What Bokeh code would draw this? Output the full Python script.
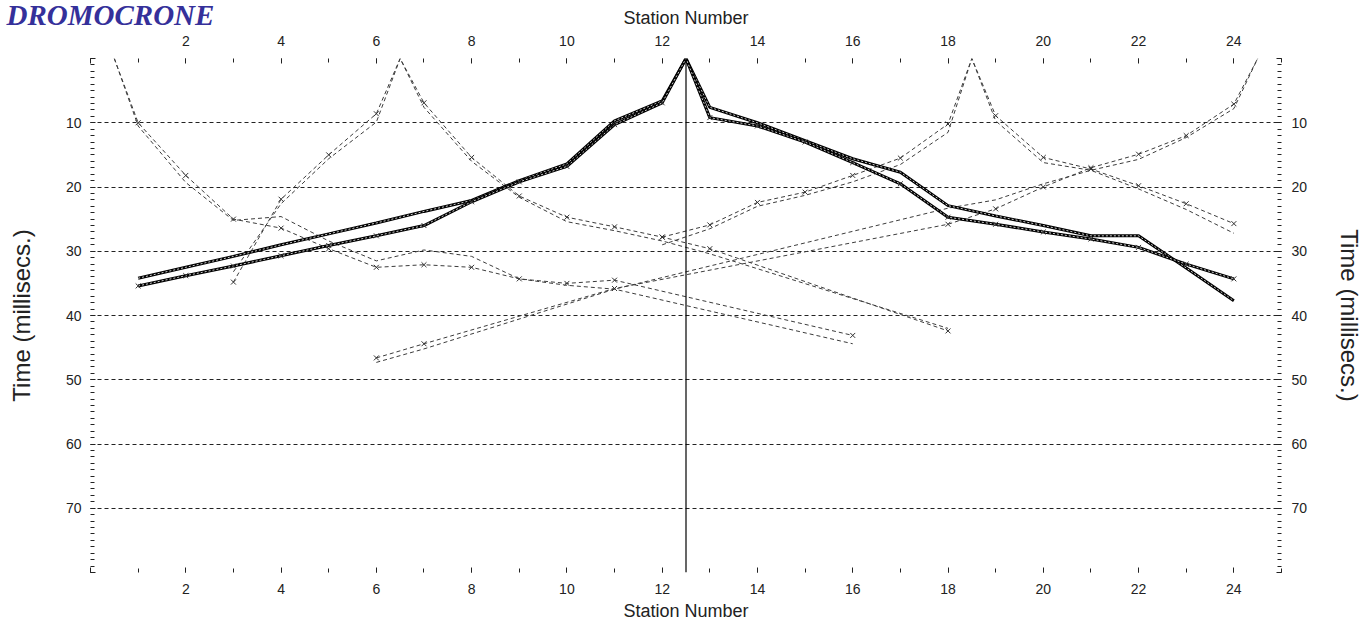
from bokeh.plotting import figure
from bokeh.models import Range1d, LinearAxis, FixedTicker, Span
from bokeh.embed import file_html
from bokeh.resources import INLINE

# ---------------- data (station number vs travel time, ms) ----------------
shot_positions = [0.5, 6.5, 12.5, 18.5, 24.5]
central_shot = 12.5

# shot at 0.5
st_a = [0.5, 1, 2, 3, 4, 5, 6, 7, 8, 9, 10, 11, 16]
obs_a = [0, 10.0, 18.2, 25.0, 26.4, 29.6, 32.5, 32.1, 32.5, 34.3, 35.0, 34.5, 43.1]
calc_a = [0, 10.5, 19.3, 25.2, 24.6, 28.4, 31.5, 29.8, 30.8, 34.3, 35.3, 35.9, 44.4]

# shot at 6.5
st_b = [3, 4, 5, 6, 6.5, 7, 8, 9, 10, 11, 12, 13, 18]
obs_b = [34.8, 21.9, 15.0, 8.6, 0, 6.9, 15.4, 21.4, 24.7, 26.2, 27.8, 29.6, 42.4]
calc_b = [33.2, 22.6, 15.6, 9.9, 0, 7.6, 16.0, 21.6, 25.4, 26.8, 28.4, 30.4, 42.0]

# shot at 12.5 (central shot, solid)
st_c = [1, 2, 3, 4, 5, 6, 7, 8, 9, 10, 11, 12, 12.5,
        13, 14, 15, 16, 17, 18, 19, 20, 21, 22, 23, 24]
obs_c = [35.4, 33.8, 32.3, 30.7, 29.1, 27.6, 26.0, 22.3, 19.2, 16.8, 10.3, 6.9, 0,
         9.2, 10.5, 13.0, 16.2, 19.5, 24.7, 25.8, 27.0, 28.1, 29.4, 32.0, 34.3]
calc_c = [34.2, 32.5, 30.8, 29.0, 27.3, 25.6, 23.8, 22.1, 19.0, 16.4, 9.7, 6.6, 0,
          7.6, 10.0, 12.8, 15.6, 17.7, 22.9, 24.5, 26.0, 27.6, 27.6, 32.6, 37.7]

# shot at 18.5
st_d = [12, 13, 14, 15, 16, 17, 18, 18.5, 19, 20, 21, 22, 23, 24]
obs_d = [27.8, 25.9, 22.4, 20.8, 18.2, 15.5, 10.2, 0, 8.9, 15.4, 17.2, 19.8, 22.6, 25.7]
calc_d = [29.0, 26.5, 23.0, 21.3, 19.2, 16.5, 11.5, 0, 9.7, 16.2, 17.4, 20.3, 23.5, 27.2]

# shot at 24.5
st_e = [6, 7, 11, 18, 19, 20, 21, 22, 23, 24, 24.5]
obs_e = [46.6, 44.4, 35.8, 25.8, 23.4, 20.0, 17.0, 14.9, 12.0, 7.1, 0]
calc_e = [47.3, 45.2, 35.9, 23.3, 22.0, 19.5, 17.4, 15.7, 12.3, 7.8, 0]

x_major = [0, 2, 4, 6, 8, 10, 12, 14, 16, 18, 20, 22, 24]
x_minor = list(range(0, 26))
y_major = [0, 10, 20, 30, 40, 50, 60, 70, 80]
y_minor = list(range(0, 81))
grid_levels = [10, 20, 30, 40, 50, 60, 70]

title_text = "DROMOCRONE"
x_title = "Station Number"
y_title = "Time (millisecs.)"

# ---------------- figure ----------------
p = figure(width=1369, height=624, output_backend="svg", toolbar_location=None,
           x_range=Range1d(0, 25), y_range=Range1d(80, 0),
           min_border_left=90, min_border_right=88,
           min_border_top=58, min_border_bottom=52)
p.outline_line_color = None
p.background_fill_color = "white"
p.border_fill_color = "white"
p.xgrid.visible = False
p.ygrid.ticker = FixedTicker(ticks=grid_levels)
p.ygrid.grid_line_color = "#222222"
p.ygrid.grid_line_dash = "4 3"
p.ygrid.grid_line_width = 1

# title (bold italic serif, top-left corner)
p.title.text = title_text
p.title.align = "left"
p.title.vertical_align = "bottom"
p.title.offset = -84
p.title.standoff = -52
p.title.text_font = "Liberation Serif"
p.title.text_font_style = "bold italic"
p.title.text_font_size = "29px"
p.title.text_color = "#35309a"

bottom_ax = p.below[0]
left_ax = p.left[0]
top_ax = LinearAxis()
right_ax = LinearAxis()
p.add_layout(top_ax, "above")
p.add_layout(right_ax, "right")

font = "Liberation Sans"
for ax in [bottom_ax, top_ax]:
    ax.ticker = FixedTicker(ticks=x_major, minor_ticks=x_minor)
    ax.major_label_overrides = {0: ""}
    ax.axis_label = x_title
for ax in [left_ax, right_ax]:
    ax.ticker = FixedTicker(ticks=y_major, minor_ticks=y_minor)
    ax.major_label_overrides = {0: "", 80: ""}
    ax.axis_label = y_title

for ax in [bottom_ax, top_ax, left_ax, right_ax]:
    ax.axis_line_color = None
    ax.major_tick_in = 5
    ax.major_tick_out = 0
    ax.minor_tick_in = 4
    ax.minor_tick_out = 0
    ax.major_tick_line_color = "#222222"
    ax.minor_tick_line_color = "#222222"
    ax.major_label_text_font = font
    ax.major_label_text_font_size = "14px"
    ax.major_label_text_color = "#222222"
    ax.axis_label_text_font = font
    ax.axis_label_text_font_style = "normal"
    ax.axis_label_text_color = "#222222"

top_ax.major_label_standoff = 13
top_ax.axis_label_standoff = 5
bottom_ax.major_label_standoff = 11
bottom_ax.axis_label_standoff = 4
for ax in [bottom_ax, top_ax]:
    ax.axis_label_text_font_size = "18px"
left_ax.major_label_standoff = 9
left_ax.axis_label_standoff = 28
right_ax.major_label_standoff = 10
right_ax.axis_label_standoff = 26
for ax in [left_ax, right_ax]:
    ax.axis_label_text_font_size = "24px"

# ---------------- series ----------------
dash_col = "#3c3c3c"


def draw_pair(st, obs, calc, solid=False):
    if solid:
        for t in (calc, obs):
            p.line(st, t, line_color="black", line_width=3)
            p.line(st, t, line_color="white", line_width=0.8, line_dash="2 2")
    else:
        p.line(st, calc, line_color=dash_col, line_width=1, line_dash="4 3")
        p.line(st, obs, line_color=dash_col, line_width=1, line_dash="4 3")
    ms = [s for s, t in zip(st, obs) if float(s).is_integer()]
    mt = [t for s, t in zip(st, obs) if float(s).is_integer()]
    p.scatter(ms, mt, marker="x", size=7, line_color="#333333", line_width=1)


draw_pair(st_a, obs_a, calc_a)
draw_pair(st_b, obs_b, calc_b)
draw_pair(st_d, obs_d, calc_d)
draw_pair(st_e, obs_e, calc_e)
draw_pair(st_c, obs_c, calc_c, solid=True)

p.add_layout(Span(location=central_shot, dimension="height",
                  line_color="black", line_width=1.2))

open("out.html", "w").write(file_html(p, INLINE))
